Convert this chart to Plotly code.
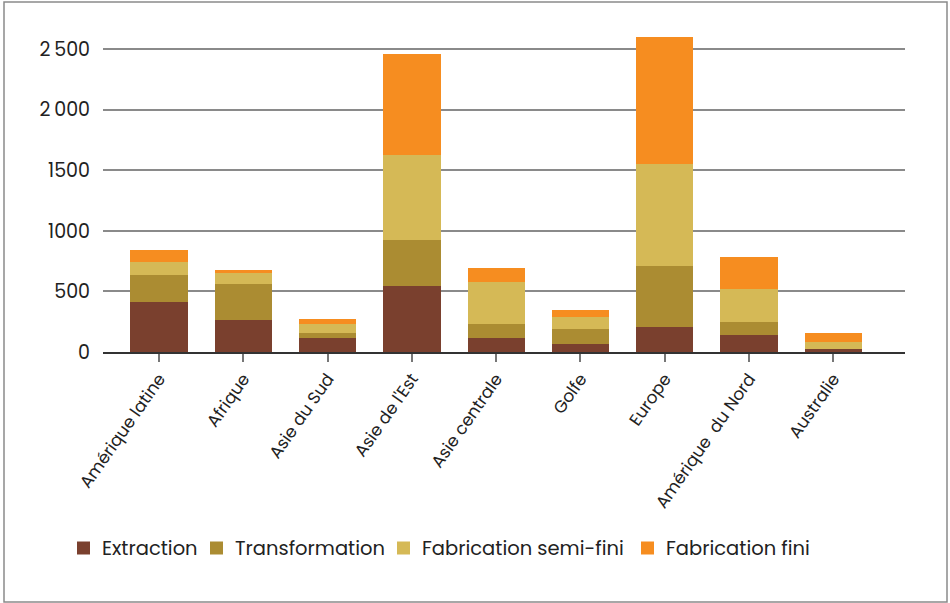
import plotly.graph_objects as go

regions = ["Amérique latine", "Afrique", "Asie du Sud", "Asie de l'Est", "Asie centrale",
           "Golfe", "Europe", "Amérique\u00a0 du Nord", "Australie"]
extraction = [413, 264, 116, 545, 116, 66, 206, 140, 25]
transformation = [222, 297, 41, 379, 115, 124, 504, 108, 0]
semi_fini = [108, 91, 74, 701, 347, 99, 841, 272, 58]
fini = [99, 25, 41, 834, 115, 58, 1048, 264, 74]

series_names = ["Extraction", "Transformation", "Fabrication semi-fini", "Fabrication fini"]
series_values = [extraction, transformation, semi_fini, fini]
colors = ["#7A402E", "#AB8C32", "#D5B956", "#F68D20"]

y_tickvals = [0, 500, 1000, 1500, 2000, 2500]
y_ticktext = ["0", "500", "1000", "1500", "2\u2009000", "2\u2009500"]

FONT = "Poppins, Inter, 'Noto Sans', sans-serif"

fig = go.Figure()
for name, vals, col in zip(series_names, series_values, colors):
    fig.add_trace(go.Bar(x=regions, y=vals, name=name, showlegend=False,
                         marker=dict(color=col, line=dict(width=0))))

W, H = 950, 603
L, R, T, B = 103, 45, 25, 251
pw, ph = W - L - R, H - T - B

def px_x(x):
    return (x - L) / pw

def px_y(y):
    return (H - B - y) / ph

shapes = [dict(type="rect", xref="paper", yref="paper",
               x0=px_x(4), x1=px_x(947), y0=px_y(602), y1=px_y(2),
               line=dict(color="#8a8a8a", width=1.5), fillcolor="rgba(0,0,0,0)",
               layer="below")]
annotations = []
# legend (layout positions only)
legend_text_x = [100, 233, 420, 664]
legend_y = 548
for name, col, tx in zip(series_names, colors, legend_text_x):
    shapes.append(dict(type="rect", xref="paper", yref="paper",
                       x0=px_x(tx - 23), x1=px_x(tx - 10),
                       y0=px_y(legend_y + 6.5), y1=px_y(legend_y - 6.5),
                       line=dict(width=0), fillcolor=col))
    annotations.append(dict(xref="paper", yref="paper", x=px_x(tx), y=px_y(legend_y),
                            xanchor="left", yanchor="middle", showarrow=False,
                            text=name, font=dict(size=19.5, color="#222", family=FONT)))

fig.update_layout(
    width=W, height=H,
    barmode="stack", bargap=0.32,
    plot_bgcolor="white", paper_bgcolor="white",
    margin=dict(l=L, r=R, t=T, b=B),
    font=dict(family=FONT, size=17, color="#222"),
    showlegend=False,
    xaxis=dict(range=[-0.665, 8.85], tickangle=-55, ticks="outside", ticklen=8,
               tickcolor="#777", tickwidth=1.5, showline=True, linecolor="#333",
               linewidth=2, showgrid=False, tickfont=dict(size=17, color="#222")),
    yaxis=dict(range=[0, 2700], tickvals=y_tickvals, ticktext=y_ticktext,
               showgrid=True, gridcolor="#8a8a8a", gridwidth=1.5,
               zeroline=False, showline=False, ticks="", ticklabelstandoff=12,
               tickfont=dict(size=19, color="#222")),
    shapes=shapes,
    annotations=annotations,
)

fig.write_html("out.html", config={"displayModeBar": False},
               post_script="document.body.style.margin='0';document.body.style.overflow='hidden';")
